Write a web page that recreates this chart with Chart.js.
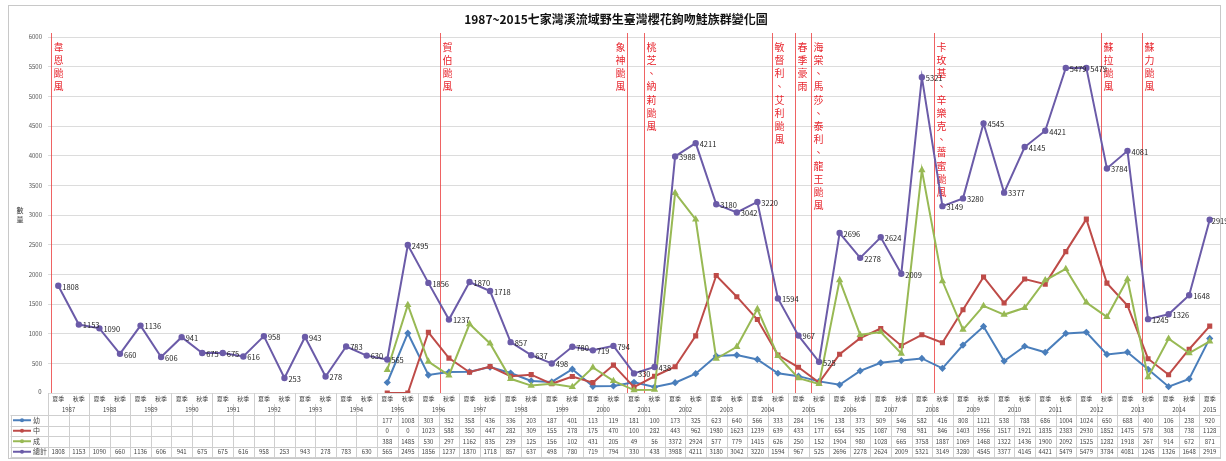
<!DOCTYPE html>
<html><head><meta charset="utf-8">
<script src="https://cdn.jsdelivr.net/npm/chart.js@4.4.1/dist/chart.umd.min.js"></script>
<style>html,body{margin:0;padding:0;background:#fff;}#wrap{width:1226px;height:461px;position:relative;}</style>
</head><body><div id="wrap"><canvas id="c" width="1226" height="461"></canvas></div>
<script>
const titleText = '1987~2015七家灣溪流域野生臺灣櫻花鉤吻鮭族群變化圖';
const years = [1987,1988,1989,1990,1991,1992,1993,1994,1995,1996,1997,1998,1999,2000,2001,2002,2003,2004,2005,2006,2007,2008,2009,2010,2011,2012,2013,2014,2015];
const seasons = ['夏季','秋季'];
const yTicks = [0,500,1000,1500,2000,2500,3000,3500,4000,4500,5000,5500,6000];
const seriesNames = ['幼','中','成','總計'];
const N = null;
const young = [N,N,N,N,N,N,N,N,N,N,N,N,N,N,N,N,
  177,1008, 303,352, 358,436, 336,203, 187,401, 113,119, 181,100, 173,325, 623,640, 566,333,
  284,196, 138,373, 509,546, 582,416, 808,1121, 538,788, 686,1004, 1024,650, 688,400, 106,238, 920];
const middle = [N,N,N,N,N,N,N,N,N,N,N,N,N,N,N,N,
  0,0, 1023,588, 350,447, 282,309, 155,278, 175,470, 100,282, 443,962, 1980,1623, 1239,639,
  433,177, 654,925, 1087,798, 981,846, 1403,1956, 1517,1921, 1835,2383, 2930,1852, 1475,578, 308,738, 1128];
const adult = [N,N,N,N,N,N,N,N,N,N,N,N,N,N,N,N,
  388,1485, 530,297, 1162,835, 239,125, 156,102, 431,205, 49,56, 3372,2924, 577,779, 1415,626,
  250,152, 1904,980, 1028,665, 3758,1887, 1069,1468, 1322,1436, 1900,2092, 1525,1282, 1918,267, 914,672, 871];
const total = [1808,1153, 1090,660, 1136,606, 941,675, 675,616, 958,253, 943,278, 783,630,
  565,2495, 1856,1237, 1870,1718, 857,637, 498,780, 719,794, 330,438, 3988,4211, 3180,3042, 3220,1594,
  967,525, 2696,2278, 2624,2009, 5321,3149, 3280,4545, 3377,4145, 4421,5479, 5479,3784, 4081,1245, 1326,1648, 2919];
// events: category position (fractional index) and label
const eventPos = [-0.35, 18.55, 27.65, 28.5, 34.7, 35.85, 36.6, 42.6, 50.7, 52.7];
const eventText = ['韋恩颱風','賀伯颱風','象神颱風','桃芝、納莉颱風','敏督利、艾利颱風','春季豪雨','海棠、馬莎、泰利、龍王颱風','卡玫基、辛樂克、薔蜜颱風','蘇拉颱風','蘇力颱風'];
const eventTextSide = [1,1,-1,1,1,1,1,1,1,1];

const categories = [];
years.forEach(y => seasons.forEach(s => { if (y === 2015 && s === '秋季') return; categories.push([s, String(y)]); }));

const colors = ['#4A7EBB', '#BE4B48', '#98B954', '#6B5BA8'];
const styles = ['rectRot', 'rect', 'triangle', 'circle'];
const FONT = '"Noto Sans CJK TC", "Noto Sans", sans-serif';

const dataSets = [young, middle, adult, total].map((d, i) => ({
  label: seriesNames[i], data: d, borderColor: colors[i], backgroundColor: colors[i],
  borderWidth: 2, pointStyle: styles[i], pointRadius: 2.2, pointHoverRadius: 2.2,
  tension: 0, spanGaps: false, order: 4 - i
}));

const stackedText = (ctx, text, x, y0, step) => {
  [...text].forEach((ch, k) => ctx.fillText(ch, x, y0 + k * step));
};

const decorPlugin = {
  id: 'decor',
  beforeDatasetsDraw(chart) {
    const { ctx, chartArea: a, scales: { x } } = chart;
    const step = x.getPixelForValue(1) - x.getPixelForValue(0);
    ctx.save();
    eventPos.forEach((p, i) => {
      const px = Math.round(x.getPixelForValue(0) + p * step) + 0.5;
      ctx.strokeStyle = 'rgba(235,60,60,0.8)';
      ctx.lineWidth = 1;
      ctx.beginPath(); ctx.moveTo(px, a.top - 4); ctx.lineTo(px, a.bottom); ctx.stroke();
      ctx.fillStyle = '#E8262E';
      ctx.font = '10px ' + FONT;
      ctx.textAlign = 'center'; ctx.textBaseline = 'middle';
      stackedText(ctx, eventText[i], px + eventTextSide[i] * 7, a.top + 10, 13.2);
    });
    ctx.restore();
  },
  afterDraw(chart) {
    const { ctx, chartArea: a, scales: { x } } = chart;
    ctx.save();
    // frame
    ctx.strokeStyle = '#c8c8c8'; ctx.lineWidth = 1;
    ctx.strokeRect(8.5, 5.5, 1212, 453);
    // title
    ctx.fillStyle = '#111'; ctx.font = 'bold 12px ' + FONT;
    ctx.textAlign = 'center'; ctx.textBaseline = 'middle';
    ctx.fillText(titleText, 616, 19);
    // y axis title (stacked)
    ctx.font = '7px ' + FONT; ctx.fillStyle = '#333';
    stackedText(ctx, '數量', 20, 210, 9);
    // data labels for total
    const meta = chart.getDatasetMeta(3);
    ctx.font = '7.5px ' + FONT; ctx.fillStyle = '#222'; ctx.textAlign = 'left';
    meta.data.forEach((pt, i) => {
      if (total[i] == null) return;
      const last = i === total.length - 1;
      ctx.fillText(String(total[i]), pt.x + (last ? 2 : 4), pt.y + 1);
    });
    // data table
    const n = categories.length;
    const step = x.getPixelForValue(1) - x.getPixelForValue(0);
    const L = x.getPixelForValue(0) - step / 2;
    const R = x.getPixelForValue(n - 1) + step / 2;
    const T = a.bottom;
    const rows = [T, T + 11, T + 22, T + 32.5, T + 43, T + 53.5, T + 64];
    const keyL = 10.5;
    ctx.strokeStyle = '#cfcfcf'; ctx.lineWidth = 1;
    const hl = (y, x0, x1) => { ctx.beginPath(); ctx.moveTo(x0, Math.round(y) + 0.5); ctx.lineTo(x1, Math.round(y) + 0.5); ctx.stroke(); };
    const vl = (xx, y0, y1) => { ctx.beginPath(); ctx.moveTo(Math.round(xx) + 0.5, y0); ctx.lineTo(Math.round(xx) + 0.5, y1); ctx.stroke(); };
    for (let r = 2; r < rows.length; r++) hl(rows[r], keyL, R);
    vl(keyL, rows[2], rows[6]);
    for (let i = 0; i <= n; i++) {
      const xx = L + i * step;
      const isYearEdge = (i % 2 === 0) || i === n;
      vl(xx, isYearEdge ? T : rows[1], rows[6]);
    }
    ctx.font = '6px ' + FONT; ctx.fillStyle = '#444'; ctx.textAlign = 'center'; ctx.textBaseline = 'middle';
    categories.forEach((c, i) => {
      const cx = x.getPixelForValue(i);
      ctx.fillText(c[0], cx, (rows[0] + rows[1]) / 2);
      if (i % 2 === 0) {
        const span = (i + 1 < n) ? step : 0;
        ctx.fillText(c[1], cx + span / 2, (rows[1] + rows[2]) / 2);
      }
    });
    ctx.fillText('0', 40, T - 1);
    const series = [young, middle, adult, total];
    series.forEach((d, r) => {
      const cy = (rows[r + 2] + rows[r + 3]) / 2;
      d.forEach((v, i) => { if (v != null) ctx.fillText(String(v), x.getPixelForValue(i), cy); });
      // legend key
      ctx.strokeStyle = colors[r]; ctx.lineWidth = 2;
      ctx.beginPath(); ctx.moveTo(13, cy); ctx.lineTo(31, cy); ctx.stroke();
      ctx.fillStyle = colors[r];
      ctx.beginPath(); ctx.arc(22, cy, 2, 0, Math.PI * 2); ctx.fill();
      ctx.fillStyle = '#444'; ctx.textAlign = 'left';
      ctx.font = '7px ' + FONT;
      ctx.fillText(seriesNames[r], 33, cy);
      ctx.font = '6px ' + FONT; ctx.textAlign = 'center';
      ctx.strokeStyle = '#cfcfcf'; ctx.lineWidth = 1;
    });
    ctx.restore();
  }
};

new Chart(document.getElementById('c'), {
  type: 'line',
  data: { labels: categories, datasets: dataSets },
  options: {
    responsive: false, animation: false,
    layout: { padding: { left: 10, right: 6, top: 37, bottom: 68 } },
    plugins: { legend: { display: false }, title: { display: false }, tooltip: { enabled: false } },
    scales: {
      x: { display: false, offset: true },
      y: {
        min: 0, max: 6000,
        afterBuildTicks: (s) => { s.ticks = yTicks.map(v => ({ value: v })); },
        afterFit: (s) => { s.width = 38; },
        border: { display: false },
        grid: { color: '#dcdcdc', drawTicks: false },
        ticks: { font: { size: 6, family: FONT }, color: '#555', padding: 6,
          callback: (v) => v === 0 ? '' : String(v) }
      }
    }
  },
  plugins: [decorPlugin]
});
</script></body></html>
